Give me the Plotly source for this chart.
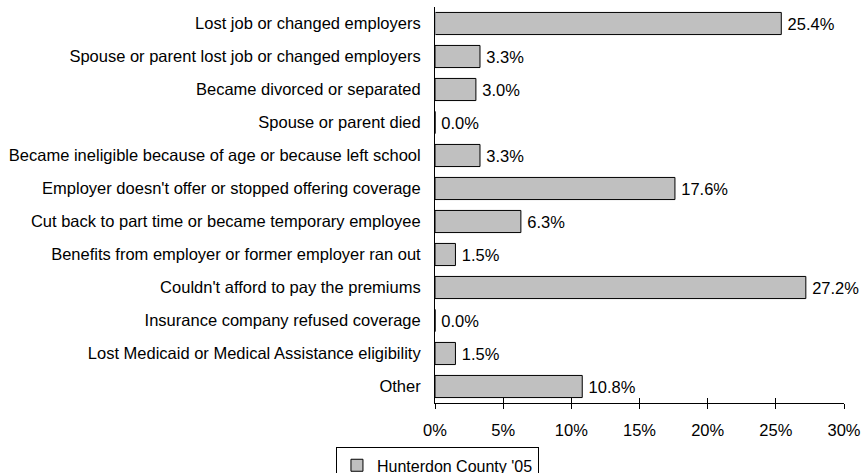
"""
Reasons for losing health coverage - horizontal bar chart
"""
import plotly.graph_objects as go

categories = [
    "Lost job or changed employers",
    "Spouse or parent lost job or changed employers",
    "Became divorced or separated",
    "Spouse or parent died",
    "Became ineligible because of age or because left school",
    "Employer doesn't offer or stopped offering coverage",
    "Cut back to part time or became temporary employee",
    "Benefits from employer or former employer ran out",
    "Couldn't afford to pay the premiums",
    "Insurance company refused coverage",
    "Lost Medicaid or Medical Assistance eligibility",
    "Other",
]
values = [25.4, 3.3, 3.0, 0.0, 3.3, 17.6, 6.3, 1.5, 27.2, 0.0, 1.5, 10.8]
series_name = "Hunterdon County '05"
tick_vals = [0, 5, 10, 15, 20, 25, 30]
tick_text = ["0%", "5%", "10%", "15%", "20%", "25%", "30%"]

FONT = "Liberation Sans, Arial, sans-serif"
FSIZE = 16.5

fig = go.Figure()

fig.add_trace(
    go.Bar(
        x=values,
        y=categories,
        orientation="h",
        name=series_name,
        marker=dict(color="#C0C0C0", line=dict(color="#000000", width=1)),
        width=0.67,
        text=[f"\u2009{v:.1f}%" for v in values],
        textposition="outside",
        textfont=dict(family=FONT, size=FSIZE, color="#000000"),
        cliponaxis=False,
    )
)

# invisible trace on overlay axis, so ticks can cross the axis line
fig.add_trace(
    go.Bar(x=[0], y=[categories[0]], orientation="h", xaxis="x2",
           showlegend=False, hoverinfo="skip", marker=dict(color="rgba(0,0,0,0)"))
)

fig.update_layout(
    width=865,
    height=473,
    margin=dict(l=435, r=21, t=7, b=70, autoexpand=False),
    paper_bgcolor="white",
    plot_bgcolor="white",
    font=dict(family=FONT, size=FSIZE, color="#000000"),
    showlegend=True,
    legend=dict(
        x=0.006, y=-0.112, xanchor="center", yanchor="top",
        orientation="h",
        bordercolor="#000000", borderwidth=1,
        font=dict(family=FONT, size=16, color="#000000"),
        itemwidth=30,
    ),
    xaxis=dict(
        range=[0, 30],
        tickvals=tick_vals,
        ticktext=tick_text,
        showgrid=False,
        zeroline=False,
        showline=True,
        linecolor="#000000",
        linewidth=1,
        ticks="outside",
        ticklen=5,
        tickcolor="#000000",
        ticklabelstandoff=7,
        tickfont=dict(family=FONT, size=FSIZE),
        automargin=False,
        fixedrange=True,
    ),
    xaxis2=dict(
        range=[0, 30],
        overlaying="x",
        side="bottom",
        tickvals=tick_vals,
        showticklabels=False,
        showgrid=False,
        zeroline=False,
        ticks="inside",
        ticklen=5,
        tickcolor="#000000",
        automargin=False,
    ),
    yaxis=dict(
        autorange="reversed",
        showgrid=False,
        zeroline=False,
        showline=True,
        linecolor="#000000",
        linewidth=1,
        ticks="",
        ticklabelstandoff=10,
        tickfont=dict(family=FONT, size=FSIZE),
        automargin=False,
    ),
)

# drop the default page margin so the figure sits at the window corner
fig.write_html(
    "out.html",
    config={"displayModeBar": False},
    post_script="document.body.style.margin='0';",
)
